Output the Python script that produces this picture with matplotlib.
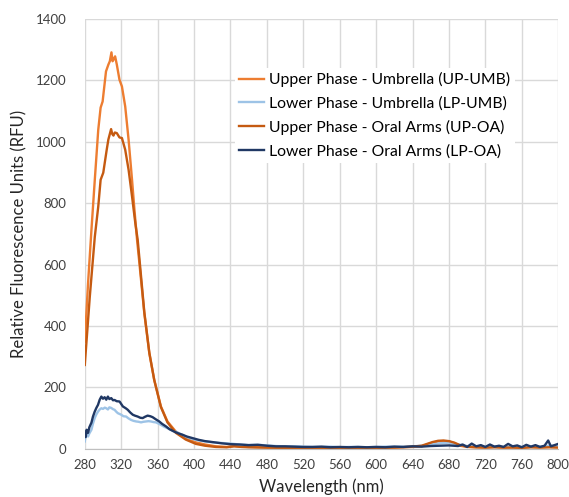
import matplotlib
matplotlib.use("Agg")
import matplotlib.pyplot as plt

# --------------------------
# Data
# --------------------------
up_umb_wl = [280, 283.6, 287.3, 291, 294.8, 297.4, 299.6, 303.3, 305.9, 307.5, 309.3, 310.5,
             311.5, 313.3, 315.2, 318.1, 320.8, 324.4, 328.1, 331.9, 334.5, 337.4, 340, 345.4,
             350.9, 356.3, 363.6, 370.8, 380, 390.9, 402, 412, 424, 436, 444, 452, 460, 480,
             500, 520, 540, 560, 580, 600, 620, 640, 650, 656, 662, 668, 674, 680, 686, 692,
             700, 710, 720, 730, 740, 750, 760, 770, 780, 790, 800]
up_umb = [349, 539, 712, 876, 1039, 1111, 1131, 1229, 1251, 1262, 1291, 1262,
          1267, 1278, 1251, 1202, 1180, 1115, 1007, 876, 780, 681, 604, 441,
          311, 224, 138, 89, 56, 35, 21, 14, 8, 6, 9, 7, 6, 4,
          3, 3, 3, 2, 3, 3, 4, 6, 8, 14, 20, 24, 25, 24, 18, 10,
          6, 5, 4, 6, 4, 5, 4, 6, 5, 6, 5]

lp_umb_wl = [280, 281.8, 283.6, 285, 287.3, 289, 290.9, 292.7, 294.5, 296.4, 298.2, 300, 302,
             303.6, 305.4, 307, 309.1, 311, 312.7, 314.5, 316.3, 320, 322.5, 325.4, 328, 330.9,
             333.5, 336.4, 339, 341.8, 344.5, 347.3, 350, 352.7, 355.5, 358.2, 361, 363.6, 367,
             370.8, 375, 380, 385, 390.9, 396, 402, 410, 420, 430, 440, 450, 460, 470, 480, 490,
             500, 510, 520, 530, 540, 550, 560, 570, 580, 590, 600, 610, 620, 630, 640, 650,
             660, 670, 680, 690, 700, 710, 720, 730, 740, 750, 760, 770, 780, 790, 800]
lp_umb = [24, 55, 40, 50, 62, 82, 100, 112, 121, 128, 132, 130, 134,
          132, 128, 135, 133, 129, 127, 121, 116, 111, 106, 105, 99, 94,
          91, 89, 88, 86, 88, 89, 90, 89, 87, 86, 82, 78, 72,
          67, 61, 56, 48, 40, 34, 29, 25, 21, 19, 17, 14, 12, 13, 11, 9,
          8, 8, 7, 6, 6, 7, 5, 6, 6, 5, 6, 7, 7, 7, 8, 10,
          14, 18, 20, 14, 9, 7, 6, 8, 6, 7, 6, 8, 7, 10, 9]

up_oa_wl = [280, 285.5, 291, 294.8, 297.4, 300.3, 304.1, 305.9, 308.9, 310.2, 311.5, 313,
            315.2, 318.1, 320.8, 324.4, 328.1, 331.9, 335.5, 338.1, 340, 345.4, 350.9, 356.3,
            363.6, 370.8, 380, 390.9, 402, 412, 424, 436, 444, 452, 460, 480, 500, 520, 540,
            560, 580, 600, 620, 640, 650, 656, 662, 668, 674, 680, 686, 692, 700, 710, 720,
            730, 740, 750, 760, 770, 780, 790, 800]
up_oa = [273, 495, 690, 789, 876, 899, 974, 1007, 1041, 1025, 1020, 1030,
         1028, 1014, 1012, 974, 909, 822, 735, 681, 620, 445, 313, 224,
         136, 86, 52, 30, 16, 10, 6, 5, 8, 6, 5, 4, 3, 3, 3,
         2, 3, 3, 4, 7, 10, 16, 22, 26, 27, 25, 20, 12, 7, 5, 4,
         5, 4, 4, 3, 5, 4, 5, 4]

lp_oa_wl = [280, 281, 282, 283.6, 285, 287.3, 289, 290.9, 292.7, 294.5, 296.4, 298.2, 300,
            301.8, 303.6, 305.4, 307, 309.1, 311, 312.7, 315, 318.2, 321.8, 325, 327.2, 330,
            332.7, 335, 338.1, 341, 343.6, 346, 349, 352, 354.5, 358, 361.8, 365, 369.1, 373,
            378.1, 383, 387.2, 392, 398.1, 405.4, 412, 420, 430, 440, 450, 460, 470, 480, 490,
            500, 510, 520, 530, 540, 550, 560, 570, 580, 590, 600, 610, 620, 630, 640, 650,
            660, 670, 680, 690, 695, 700, 705, 710, 715, 720, 725, 730, 735, 740, 745, 750,
            755, 760, 765, 770, 775, 780, 785, 789, 792, 796, 800]
lp_oa = [51, 38, 62, 52, 70, 85, 105, 121, 133, 143, 160, 170, 163,
         168, 160, 170, 162, 165, 158, 159, 155, 154, 138, 132, 127, 118,
         111, 108, 105, 101, 100, 104, 108, 106, 103, 96, 89, 81, 73, 64,
         56, 50, 46, 40, 35, 29, 25, 22, 18, 15, 14, 12, 13, 10, 8,
         8, 7, 6, 6, 7, 5, 6, 5, 6, 5, 6, 5, 7, 6, 8, 7,
         9, 10, 11, 9, 14, 6, 17, 8, 12, 6, 14, 7, 10, 6, 16, 8,
         11, 5, 13, 7, 12, 6, 10, 27, 8, 12, 16]

series_labels = ["Upper Phase - Umbrella (UP-UMB)", "Lower Phase - Umbrella (LP-UMB)",
                 "Upper Phase - Oral Arms (UP-OA)", "Lower Phase - Oral Arms (LP-OA)"]
series_colors = ["#ED7D31", "#9DC3E6", "#C55A11", "#203864"]

x_ticks = list(range(280, 801, 40))
y_ticks = list(range(0, 1401, 200))

# --------------------------
# Plot
# --------------------------
plt.rcParams["font.family"] = ["Lato", "DejaVu Sans"]

fig = plt.figure(figsize=(5.69, 4.97), dpi=100)
ax = fig.add_axes([0.149, 0.097, 0.832, 0.865])

all_series = [(up_umb_wl, up_umb), (lp_umb_wl, lp_umb), (up_oa_wl, up_oa), (lp_oa_wl, lp_oa)]
for (wl, vals), lab, col in zip(all_series, series_labels, series_colors):
    ax.plot(wl, vals, color=col, lw=1.7, label=lab)

ax.set_xlim(280, 800)
ax.set_ylim(0, 1400)
ax.set_xticks(x_ticks)
ax.set_yticks(y_ticks)
ax.grid(True, color="#D9D9D9", lw=1.0)
ax.set_axisbelow(True)
for s in ["top", "right", "left"]:
    ax.spines[s].set_visible(False)
ax.spines["bottom"].set_color("#BFBFBF")
ax.tick_params(axis="both", length=0, labelsize=9.5, colors="#404040")
ax.tick_params(axis="y", pad=13)
ax.tick_params(axis="x", pad=7)

ax.set_xlabel("Wavelength (nm)", fontsize=12, color="#262626", labelpad=6)
ax.set_ylabel("Relative Fluorescence Units (RFU)", fontsize=12, color="#262626", labelpad=6)

leg = ax.legend(loc="upper left", bbox_to_anchor=(0.30, 0.905), frameon=True,
                fontsize=11.3, handlelength=1.6, handletextpad=0.3, labelspacing=0.58,
                borderpad=0.3, fancybox=False)
leg.get_frame().set_facecolor("white")
leg.get_frame().set_edgecolor("none")
leg.get_frame().set_alpha(1.0)

fig.savefig("out.png", dpi=100)
